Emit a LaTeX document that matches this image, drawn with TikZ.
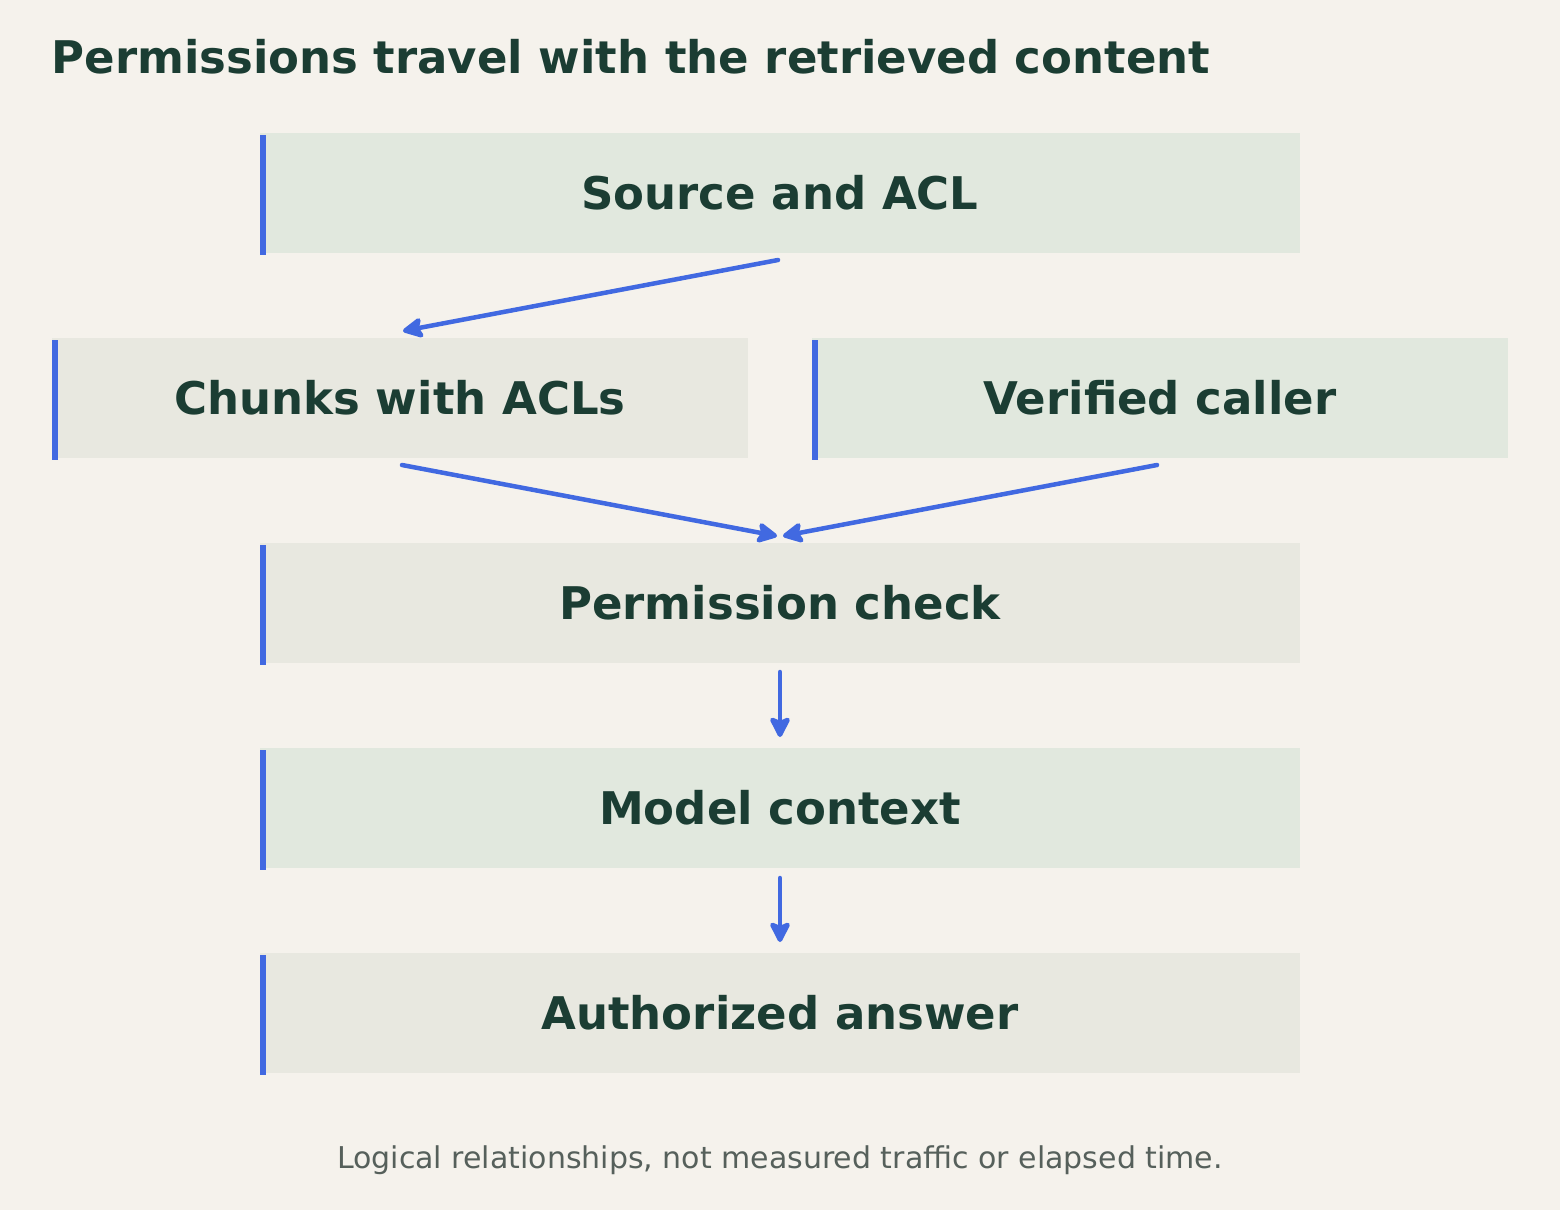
\documentclass[tikz,border=0pt]{standalone}
\usepackage{fontspec}
\setmainfont{DejaVu Sans}
\usetikzlibrary{arrows.meta}
\definecolor{bg}{HTML}{F5F2EC}
\definecolor{fg}{HTML}{1B3D33}
\definecolor{bl}{HTML}{4169E1}
\definecolor{gr}{HTML}{E1E8DE}
\definecolor{gy}{HTML}{E8E8E0}
\definecolor{ft}{HTML}{56605B}
\begin{document}
\begin{tikzpicture}[x=1pt,y=-1pt,
 box/.style={draw=none,minimum height=120pt,inner sep=0pt,font=\fontsize{45}{50}\selectfont\bfseries,text=fg},
 arr/.style={draw=bl,line width=4.5pt,line cap=round,-{Stealth[length=24pt,width=24pt,inset=5pt,round]}}]
\useasboundingbox[fill=bg] (0,0) rectangle (1560,1210);
\node[anchor=west,text=fg,font=\fontsize{45}{50}\selectfont\bfseries] (title) at (48,57) {Permissions travel with the retrieved content};
\node[box,fill=gr,minimum width=1040pt] (src) at (780,193) {Source and ACL};
\node[box,fill=gy,minimum width=696pt] (chk) at (400,398) {Chunks with ACLs};
\node[box,fill=gr,minimum width=696pt] (ver) at (1160,398) {Verified caller};
\node[box,fill=gy,minimum width=1040pt] (per) at (780,603) {Permission check};
\node[box,fill=gr,minimum width=1040pt] (mod) at (780,808) {Model context};
\node[box,fill=gy,minimum width=1040pt] (aut) at (780,1013) {Authorized answer};
\foreach \n in {src,chk,ver,per,mod,aut}{\fill[bl] ([yshift=-2pt]\n.north west) rectangle ([xshift=6pt,yshift=-2pt]\n.south west);}
\node[text=ft,font=\fontsize{30}{34}\selectfont] (foot) at (780,1160) {Logical relationships, not measured traffic or elapsed time.};
\coordinate (a1) at (778,260); \coordinate (a2) at (403,331);
\coordinate (b1) at (402,465); \coordinate (b2) at (777,536);
\coordinate (c1) at (1157,465); \coordinate (c2) at (783,536);
\coordinate (d1) at (780,672); \coordinate (d2) at (780,737);
\coordinate (e1) at (780,878); \coordinate (e2) at (780,942);
\draw[arr] (a1) -- (a2);
\draw[arr] (b1) -- (b2);
\draw[arr] (c1) -- (c2);
\draw[arr] (d1) -- (d2);
\draw[arr] (e1) -- (e2);
\end{tikzpicture}
\end{document}
